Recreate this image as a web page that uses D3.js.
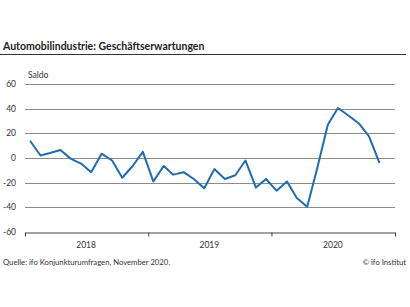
<!DOCTYPE html>
<html>
<head>
<meta charset="utf-8">
<script src="https://cdn.jsdelivr.net/npm/d3@7"></script>
<style>
  body { margin: 0; background: #fff; }
  svg text { font-family: Lato, "Open Sans", sans-serif; fill: #333; }
  .title { font-weight: bold; font-size: 10.5px; fill: #222; }
  .tick-label { font-size: 8.5px; }
  .note { font-size: 7.7px; }
</style>
</head>
<body>
<div id="chart"></div>
<script>
// ifo Geschaeftserwartungen Automobilindustrie, monthly, Jan 2018 - Nov 2020
var months = d3.timeMonths(new Date(2018, 0, 1), new Date(2020, 10, 2));
var values = [
  14, 2, 4, 6.5, -0.5, -4.5, -11.5, 3.5, -2, -16, -6.5, 5,
  -19, -6.5, -13.5, -11.5, -17, -24.5, -9, -17, -14, -2, -24, -17,
  -26.5, -19, -32.5, -39.5, -8, 27, 40.5, 34.5, 28, 17.5, -4
];
var yTicks = [-60, -40, -20, 0, 20, 40, 60];
var years = [2018, 2019, 2020];

var W = 410, H = 307;
var plot = {left: 25, right: 395, top: 84, bottom: 232};

var svg = d3.select("#chart").append("svg")
  .attr("width", W)
  .attr("height", H);

var x = d3.scaleTime()
  .domain([new Date(2018, 0, 1), new Date(2021, 0, 1)])
  .range([plot.left, plot.right]);
var y = d3.scaleLinear()
  .domain([-60, 60])
  .range([plot.bottom, plot.top]);

// title + rule
svg.append("text")
  .attr("class", "title")
  .attr("x", 3).attr("y", 50)
  .text("Automobilindustrie: Geschäftserwartungen");
svg.append("line")
  .attr("x1", 0).attr("x2", 406)
  .attr("y1", 54.5).attr("y2", 54.5)
  .style("stroke", "#333").style("stroke-width", 1);

svg.append("text")
  .attr("class", "tick-label")
  .attr("x", 28).attr("y", 78)
  .text("Saldo");

// gridlines
svg.selectAll(".grid").data(yTicks.filter(function(d) {return d > -60;}))
  .enter().append("line")
  .attr("class", "grid")
  .attr("x1", plot.left).attr("x2", plot.right)
  .attr("y1", function(d) {return Math.round(y(d)) + 0.5;})
  .attr("y2", function(d) {return Math.round(y(d)) + 0.5;})
  .style("stroke", "#8c8c8c").style("stroke-width", 1);

svg.selectAll(".ylabel").data(yTicks)
  .enter().append("text")
  .attr("class", "tick-label")
  .attr("text-anchor", "end")
  .attr("x", 16)
  .attr("y", function(d) {return y(d) + 3;})
  .text(function(d) {return d;});

// x axis with year boundary ticks
var xAxis = d3.axisBottom(x)
  .tickValues(years.concat([2021]).map(function(yr) {return new Date(yr, 0, 1);}))
  .tickSize(4)
  .tickSizeOuter(0)
  .tickFormat("");
var gx = svg.append("g")
  .attr("transform", "translate(0," + (Math.round(plot.bottom) + 0.5) + ")")
  .call(xAxis);
gx.select(".domain").style("stroke", "#444");
gx.selectAll(".tick line").style("stroke", "#444");

svg.selectAll(".year").data(years)
  .enter().append("text")
  .attr("class", "tick-label")
  .attr("text-anchor", "middle")
  .attr("x", function(d) {return x(new Date(d, 6, 1));})
  .attr("y", 248)
  .text(function(d) {return d;});

// line
var line = d3.line()
  .x(function(d, i) {return x(new Date(months[i].getFullYear(), months[i].getMonth(), 16));})
  .y(function(d) {return y(d);});
svg.append("path")
  .datum(values)
  .attr("d", line)
  .style("fill", "none")
  .style("stroke", "#1f6db1")
  .style("stroke-width", 2)
  .style("stroke-linejoin", "round");

// footer
svg.append("text")
  .attr("class", "note")
  .attr("x", 3).attr("y", 265)
  .text("Quelle: ifo Konjunkturumfragen, November 2020.");
svg.append("text")
  .attr("class", "note")
  .attr("text-anchor", "end")
  .attr("x", 406).attr("y", 265)
  .text("© ifo Institut");
</script>
</body>
</html>
